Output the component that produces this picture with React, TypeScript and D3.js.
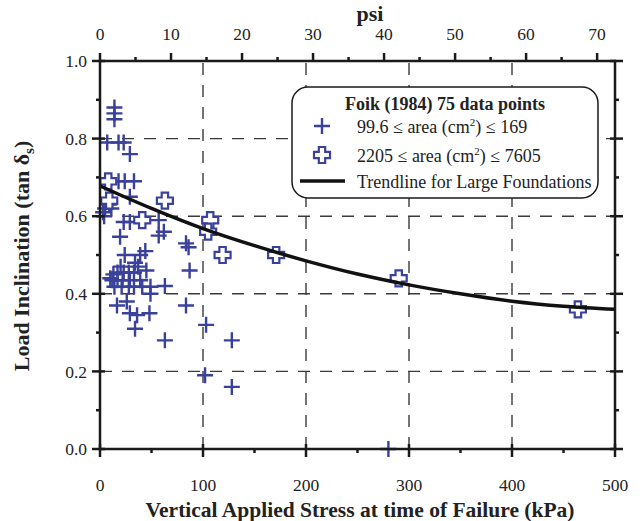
import React from "react";
import * as d3 from "d3";

// ---- data (kPa, tan δs) ----
const smallStress = [14, 14, 14, 7, 18, 23, 29, 18, 24, 33, 29, 3, 5, 9, 11, 23, 29, 57, 19.5, 62, 57, 24, 39, 44, 34, 83.5, 86, 87, 17, 23, 28, 33, 45, 12, 17, 22, 29, 39, 14, 21, 28, 33, 41, 49, 63, 49, 16.5, 26, 29, 36, 48, 34, 63, 128, 102, 128, 83.5, 103, 280, 10, 13, 20, 37, 4];
const smallTan = [0.88, 0.865, 0.85, 0.79, 0.79, 0.79, 0.76, 0.69, 0.69, 0.69, 0.65, 0.61, 0.62, 0.63, 0.62, 0.585, 0.585, 0.59, 0.547, 0.56, 0.55, 0.5, 0.5, 0.51, 0.48, 0.53, 0.52, 0.46, 0.455, 0.455, 0.455, 0.455, 0.46, 0.435, 0.435, 0.435, 0.435, 0.435, 0.418, 0.418, 0.418, 0.418, 0.418, 0.418, 0.42, 0.4, 0.37, 0.38, 0.35, 0.345, 0.35, 0.31, 0.28, 0.28, 0.19, 0.16, 0.37, 0.32, 0.0, 0.44, 0.45, 0.47, 0.47, 0.6];

const largeStress = [8, 9, 63, 41, 107, 105, 119, 171, 290, 464];
const largeTan = [0.69, 0.64, 0.64, 0.59, 0.59, 0.56, 0.5, 0.5, 0.44, 0.36];

const trendStress = [0, 50, 100, 150, 200, 250, 300, 350, 400, 450, 500];
const trendTan = [0.678, 0.62, 0.568, 0.524, 0.485, 0.451, 0.423, 0.4, 0.381, 0.368, 0.36];

const kpaTicks = [0, 100, 200, 300, 400, 500];
const kpaMinor = [50, 150, 250, 350, 450];
const psiTicks = [0, 10, 20, 30, 40, 50, 60, 70];
const psiMinor = [5, 15, 25, 35, 45, 55, 65];
const tanTicks = [0, 0.2, 0.4, 0.6, 0.8, 1.0];
const tanMinor = [0.1, 0.3, 0.5, 0.7, 0.9];
const gridX = [100, 200, 300, 400];
const gridY = [0.2, 0.4, 0.6, 0.8];

const KPA_PER_PSI = 6.894757;

const BLUE = "#3a419b";
const FONT = "'Liberation Serif', 'Times New Roman', serif";

const L = 100, R = 615, T = 61, B = 449;

function plusPath(s: number) {
  return `M${-s},0H${s}M0,${-s}V${s}`;
}
function hollowCross(s: number, w: number) {
  return `M${-w},${-s}H${w}V${-w}H${s}V${w}H${w}V${s}H${-w}V${w}H${-s}V${-w}H${-w}Z`;
}

export default function App() {
  const x = d3.scaleLinear().domain([0, 500]).range([L, R]);
  const xp = d3.scaleLinear().domain([0, 500 / KPA_PER_PSI]).range([L, R]);
  const y = d3.scaleLinear().domain([0, 1]).range([B, T]);

  const trend = d3
    .line<number>()
    .x((_, i) => x(trendStress[i]))
    .y((d) => y(d))
    .curve(d3.curveMonotoneX)(trendTan) as string;

  const axisColor = "#1a1a1a";
  const gridColor = "#3a3a3a";

  return (
    <svg width={644} height={521} style={{ position: "absolute", left: 0, top: 0, background: "#fff" }}>
      {/* grid */}
      <g stroke={gridColor} strokeWidth={1.4} strokeDasharray="12,10">
        {gridX.map((v) => (
          <line key={"gx" + v} x1={x(v)} x2={x(v)} y1={B} y2={T} />
        ))}
        {gridY.map((v) => (
          <line key={"gy" + v} x1={L} x2={R} y1={y(v)} y2={y(v)} />
        ))}
      </g>

      {/* small foundations */}
      <g stroke={BLUE} strokeWidth={2.4} fill="none">
        {smallStress.map((s, i) => (
          <path key={"s" + i} d={plusPath(8)} transform={`translate(${x(s)},${y(smallTan[i])})`} />
        ))}
      </g>
      {/* large foundations */}
      <g stroke={BLUE} strokeWidth={2.2} fill="#fff">
        {largeStress.map((s, i) => (
          <path key={"l" + i} d={hollowCross(8, 3.2)} transform={`translate(${x(s)},${y(largeTan[i])})`} />
        ))}
      </g>

      {/* trendline */}
      <path d={trend} fill="none" stroke="#111" strokeWidth={3.5} />

      {/* frame */}
      <rect x={L} y={T} width={R - L} height={B - T} fill="none" stroke={axisColor} strokeWidth={2.5} />

      {/* ticks */}
      <g stroke={axisColor} strokeWidth={2.5}>
        {kpaTicks.map((v) => (
          <line key={"bt" + v} x1={x(v)} x2={x(v)} y1={B - 5} y2={B + 8} />
        ))}
        {kpaMinor.map((v) => (
          <line key={"bm" + v} x1={x(v)} x2={x(v)} y1={B} y2={B + 4} />
        ))}
        {psiTicks.map((v) => (
          <line key={"tt" + v} x1={xp(v)} x2={xp(v)} y1={T - 8} y2={T} />
        ))}
        {psiMinor.map((v) => (
          <line key={"tm" + v} x1={xp(v)} x2={xp(v)} y1={T - 4} y2={T} />
        ))}
        {tanTicks.map((v) => (
          <line key={"lt" + v} x1={L - 8} x2={L + 5} y1={y(v)} y2={y(v)} />
        ))}
        {tanMinor.map((v) => (
          <line key={"lm" + v} x1={L - 4} x2={L} y1={y(v)} y2={y(v)} />
        ))}
        {tanTicks.map((v) => (
          <line key={"rt" + v} x1={R - 5} x2={R + 8} y1={y(v)} y2={y(v)} />
        ))}
        {tanMinor.map((v) => (
          <line key={"rm" + v} x1={R} x2={R + 4} y1={y(v)} y2={y(v)} />
        ))}
      </g>

      {/* tick labels */}
      <g fontFamily={FONT} fontSize={17.5} fill="#222">
        {kpaTicks.map((v) => (
          <text key={"bl" + v} x={x(v)} y={491} textAnchor="middle">
            {v}
          </text>
        ))}
        {psiTicks.map((v) => (
          <text key={"tl" + v} x={xp(v)} y={40} textAnchor="middle">
            {v}
          </text>
        ))}
        {tanTicks.map((v) => (
          <text key={"ll" + v} x={87} y={y(v)} dy="0.35em" textAnchor="end">
            {v.toFixed(1)}
          </text>
        ))}
      </g>

      {/* axis titles */}
      <text x={360} y={517} textAnchor="middle" fontFamily={FONT} fontWeight="bold" fontSize={21.5} fill="#222">
        Vertical Applied Stress at time of Failure (kPa)
      </text>
      <text x={370} y={21} textAnchor="middle" fontFamily={FONT} fontWeight="bold" fontSize={22} fill="#222">
        psi
      </text>
      <text
        transform={`translate(29,${(T + B) / 2 + 1}) rotate(-90)`}
        textAnchor="middle"
        fontFamily={FONT}
        fontWeight="bold"
        fontSize={22}
        fill="#222"
      >
        Load Inclination (tan δ
        <tspan fontSize={15} dy={5}>s</tspan>
        <tspan dy={-5}>)</tspan>
      </text>

      {/* legend */}
      <rect x={292} y={87} width={306} height={111} rx={16} ry={16} fill="#fff" stroke={axisColor} strokeWidth={1.5} />
      <text x={445} y={110} textAnchor="middle" fontFamily={FONT} fontWeight="bold" fontSize={18} fill="#222">
        Foik (1984) 75 data points
      </text>
      <path d={plusPath(8)} transform="translate(322,126)" stroke={BLUE} strokeWidth={2.4} fill="none" />
      <text x={357} y={133} fontFamily={FONT} fontSize={18} fill="#222">
        99.6 ≤ area (cm
        <tspan fontSize={11} dy={-7}>2</tspan>
        <tspan dy={7}>) ≤ 169</tspan>
      </text>
      <path d={hollowCross(8, 3.2)} transform="translate(322,155)" stroke={BLUE} strokeWidth={2.2} fill="#fff" />
      <text x={357} y={162} fontFamily={FONT} fontSize={18} fill="#222">
        2205 ≤ area (cm
        <tspan fontSize={11} dy={-7}>2</tspan>
        <tspan dy={7}>) ≤ 7605</tspan>
      </text>
      <line x1={300} x2={345} y1={181} y2={181} stroke="#111" strokeWidth={3.5} />
      <text x={357} y={188} fontFamily={FONT} fontSize={18} fill="#222">
        Trendline for Large Foundations
      </text>
    </svg>
  );
}
